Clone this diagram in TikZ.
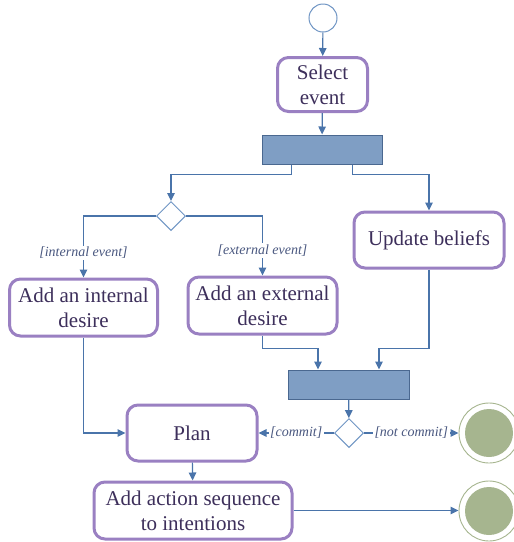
\documentclass[tikz,border=0pt]{standalone}
\usepackage{fontspec}
\setmainfont{Liberation Serif}
\usetikzlibrary{shapes.geometric,arrows.meta,calc}

\definecolor{flowblue}{HTML}{4A74AA}
\definecolor{diamondblue}{HTML}{6F95C4}
\definecolor{actpurple}{HTML}{9A80C2}
\definecolor{acttext}{HTML}{3D2F5B}
\definecolor{guardtext}{HTML}{4A5880}
\definecolor{barfill}{HTML}{7F9EC4}
\definecolor{barline}{HTML}{4A6890}
\definecolor{finalgreen}{HTML}{A6B58F}

\tikzset{
  action/.style={draw=actpurple, line width=3pt, rounded corners=11pt, fill=white,
    text=acttext, align=center, inner sep=0pt,
    font=\fontsize{21}{25}\selectfont},
  syncbar/.style={draw=barline, line width=1pt, fill=barfill, inner sep=0pt},
  choice/.style={diamond, aspect=1, draw=diamondblue, line width=1pt, fill=white,
    minimum size=29pt, inner sep=0pt},
  initial/.style={circle, draw=diamondblue, line width=1pt, fill=white,
    minimum size=28pt, inner sep=0pt},
  finalnode/.style={circle, draw=finalgreen, line width=0.9pt, fill=white,
    minimum size=60pt, inner sep=0pt},
  flow/.style={draw=flowblue, line width=1.2pt,
    -{Triangle[length=8pt,width=7.5pt]}},
  guard/.style={fill=white, text=guardtext, inner sep=1.5pt,
    font=\fontsize{14}{16}\selectfont\itshape}
}

\begin{document}
\begin{tikzpicture}[x=1pt,y=-1pt]
\useasboundingbox (0,0) rectangle (514,542);

% activity nodes
\node[initial] (start) at (323,18) {};
\node[action, minimum width=90pt, minimum height=54pt] (select) at (322.5,84.5) {Select\\event};
\node[syncbar, minimum width=120pt, minimum height=29pt] (bar1) at (322,149.5) {};
\node[choice] (d1) at (171,216) {};
\node[action, minimum width=148pt, minimum height=57pt] (internal) at (83.5,307.5) {Add an internal\\desire};
\node[action, minimum width=149pt, minimum height=57pt] (external) at (262.5,305.5) {Add an external\\desire};
\node[action, minimum width=150pt, minimum height=56pt] (update) at (429,240) {Update beliefs};
\node[syncbar, minimum width=121pt, minimum height=29pt] (bar2) at (348.5,384.5) {};
\node[choice] (d2) at (349,433) {};
\node[action, minimum width=130pt, minimum height=56pt] (plan) at (192,433) {Plan};
\node[action, minimum width=198pt, minimum height=57pt] (addact) at (193,510.5) {Add action sequence\\to intentions};
\node[finalnode] (fin1) at (489,433) {};
\fill[finalgreen] (fin1.center) circle (24);
\node[finalnode] (fin2) at (489,511) {};
\fill[finalgreen] (fin2.center) circle (24);

% control flow
\draw[flow] (start) -- (select);
\draw[flow] (select) -- (bar1);
\draw[flow] ($(bar1.south west)!0.25!(bar1.south east)$) -- ++(0,10) -| (d1.north);
\draw[flow] ($(bar1.south west)!0.75!(bar1.south east)$) -- ++(0,10) -| (update.north);
\draw[flow] (d1.west) -| (internal.north) node[guard, pos=0.8] {[internal event]};
\draw[flow] (d1.east) -| (external.north) node[guard, pos=0.79] {[external event]};
\draw[flow] (internal.south) |- (plan.west);
\draw[flow] (external.south) -- ++(0,13) -| ($(bar2.north west)!0.25!(bar2.north east)$);
\draw[flow] (update.south) -- ++(0,79) -| ($(bar2.north west)!0.75!(bar2.north east)$);
\draw[flow] (bar2) -- (d2);
\draw[flow] (d2.west) -- (plan.east) node[guard, midway] {[commit]};
\draw[flow] (d2.east) -- (fin1.west) node[guard, midway] {[not commit]};
\draw[flow] (plan) -- (addact);
\draw[flow] (addact.east) -- (addact.east -| fin2.west);
\end{tikzpicture}
\end{document}
